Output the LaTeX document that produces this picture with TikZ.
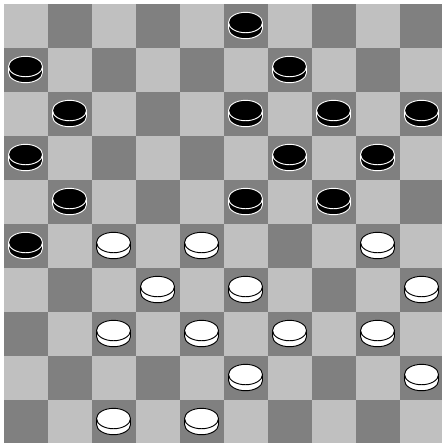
\documentclass[tikz,border=0pt]{standalone}
\usepackage{tikz}
\usetikzlibrary{calc}
\definecolor{lightsq}{HTML}{C0C0C0}
\definecolor{darksq}{HTML}{808080}

\tikzset{
    pics/checker/.style n args={2}{code={
        % rim
        \fill[#1] (-0.386,-0.068) rectangle (0.386,0.068);
        \fill[#1] (0,-0.068) ellipse (0.386 and 0.232);
        \draw[#2, line width=0.6pt] (-0.386,0.068) -- (-0.386,-0.068)
            arc (180:360:0.386 and 0.232) -- (0.386,0.068);
        % top face
        \filldraw[fill=#1, draw=#2, line width=0.6pt] (0,0.068) ellipse (0.386 and 0.232);
    }}
}

\begin{document}
\begin{tikzpicture}
        \useasboundingbox[fill=white] (-0.08,0.012) rectangle (9.965,10.08);

        % Board
        \fill[lightsq] (0,0) rectangle (10,10);
        \foreach \r in {0,...,9}
            \foreach \c in {0,...,9} {
                \pgfmathtruncatemacro\odd{mod(\r+\c,2)}
                \ifnum\odd=1
                    \fill[darksq] (\c,9-\r) rectangle ++(1,1);
                \fi
            }

        % Black pieces (column/row from the top left)
        \foreach \c/\r in {5/0, 0/1, 6/1, 1/2, 5/2, 7/2, 9/2, 0/3, 6/3, 8/3, 1/4, 5/4, 7/4, 0/5}
            \pic at (\c+0.5, 9.5-\r) {checker={black}{white}};

        % White pieces
        \foreach \c/\r in {2/5, 4/5, 8/5, 3/6, 5/6, 9/6, 2/7, 4/7, 6/7, 8/7, 5/8, 9/8, 2/9, 4/9}
            \pic at (\c+0.5, 9.5-\r) {checker={white}{black}};
    \end{tikzpicture}
\end{document}
